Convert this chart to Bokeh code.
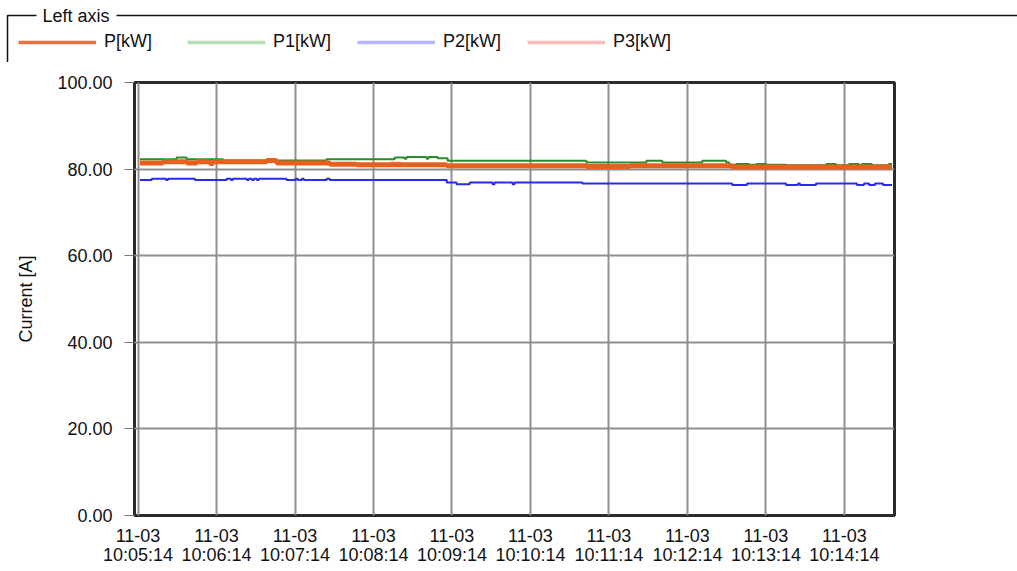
import math
import pandas as pd
from bokeh.plotting import figure
from bokeh.models import (Range1d, FixedTicker, DatetimeTickFormatter, NumeralTickFormatter,
                          Legend, LegendItem, ColumnDataSource)
from bokeh.core.properties import value
from bokeh.embed import file_html
from bokeh.resources import INLINE

# ---------------- data ----------------
START = "2023-11-03 10:05:14"
TICK_MINUTES = [0, 1, 2, 3, 4, 5, 6, 7, 8, 9]
Y_TICKS = [0, 20, 40, 60, 80, 100]
SERIES_NAMES = ["P[kW]", "P1[kW]", "P2[kW]", "P3[kW]"]

# seconds after START where the reading changes, and the reading
P_T = [1.5, 19, 37.4, 45, 55, 57.3, 98.5, 106, 146.6, 167.2, 236, 342.8, 376, 454.2, 576.4]
P_V = [81.4, 81.7, 81.4, 81.7, 81.3, 81.7, 82.0, 81.4, 81.1, 81.0, 80.8, 80.6, 80.8, 80.5, 80.5]

P1_T = [1.5, 29.5, 37.2, 65, 98.3, 102, 144, 196.2, 203.8, 205.3, 220.6, 222, 229, 236.7,
        342.8, 388.6, 400.8, 431.3, 449.6, 451.9, 457.3, 467.2, 472.5, 480.2, 495.4,
        526, 533.6, 543.5, 551.2, 553.5, 561.1, 574, 576.4]
P1_V = [82.3, 82.7, 82.3, 82.0, 82.3, 82.0, 82.3, 82.7, 82.4, 82.8, 82.4, 82.8, 82.5, 81.9,
        81.5, 81.9, 81.5, 81.9, 81.5, 81.0, 81.2, 81.0, 81.2, 81.0, 80.9,
        81.2, 80.9, 81.2, 80.9, 81.2, 80.9, 81.2, 81.2]

P2_T = [1.5, 10.5, 21.4, 22.9, 43.5, 67.7, 71, 72.5, 83.2, 84.7, 87, 88.6, 90.8, 92.4, 113.5,
        120.6, 122.1, 125.2, 126.7, 144.3, 146.6, 236, 243.5, 253.5, 271, 272.5, 286.3, 287.8,
        339.7, 454.2, 465.6, 495.4, 504.6, 506, 518.3, 549.6, 555, 558.8, 563.4, 569.5, 576.4]
P2_V = [77.5, 77.8, 77.5, 77.8, 77.5, 77.8, 77.5, 77.8, 77.5, 77.8, 77.5, 77.8, 77.5, 77.8, 77.5,
        77.8, 77.5, 77.8, 77.5, 77.8, 77.5, 76.9, 76.5, 76.9, 76.5, 76.9, 76.5, 76.9,
        76.7, 76.3, 76.7, 76.3, 76.7, 76.3, 76.7, 76.3, 76.7, 76.3, 76.7, 76.3, 76.3]

P3_T = [1.5, 19, 98.5, 106, 146.6, 193, 200.8, 221.3, 236, 292, 342.8, 408.5, 413.8, 454.2, 576.4]
P3_V = [81.6, 81.8, 81.9, 81.5, 81.2, 81.5, 81.0, 80.8, 80.9, 80.7, 80.5, 80.4, 80.7, 80.4, 80.4]

# ---------------- styles ----------------
FONT = "Liberation Sans"
CHART_COLORS = {"P[kW]": "#e8601e", "P1[kW]": "#2a8c2a", "P2[kW]": "#2a2af0", "P3[kW]": "#ffb0b0"}
LEGEND_COLORS = {"P[kW]": "#ee7040", "P1[kW]": "#b5ddb5", "P2[kW]": "#b4b4ff", "P3[kW]": "#ffbaba"}
CHART_WIDTHS = {"P[kW]": 5, "P1[kW]": 2, "P2[kW]": 2, "P3[kW]": 2}

t0 = pd.Timestamp(START)


def to_time(secs):
    return [t0 + pd.Timedelta(seconds=s) for s in secs]


def ms(ts):
    return ts.value / 1e6


# ---------------- legend strip (group box "Left axis") ----------------
W = 1017
LEG_H = 62
leg = figure(width=W, height=LEG_H, x_range=Range1d(0, W), y_range=Range1d(LEG_H, 0),
             x_axis_location=None, y_axis_location=None, toolbar_location=None,
             output_backend="svg", min_border=0, outline_line_color=None)
leg.xgrid.visible = False
leg.ygrid.visible = False
leg.line(x=[7, 7, 36], y=[LEG_H, 15, 15], line_color="#111111", line_width=1.5)
leg.line(x=[116, W], y=[15, 15], line_color="#111111", line_width=1.5)
leg.text(x=[42], y=[15], text=["Left axis"], text_baseline="middle", text_align="left",
         text_font=value(FONT), text_font_size="18px", text_color="#111111")

legend_x = [18, 187, 357, 527]
for name, lx in zip(SERIES_NAMES, legend_x):
    # swatch-only renderer (its single point is NaN, so it draws nothing in the strip)
    r = leg.line(x=[math.nan], y=[math.nan], line_color=LEGEND_COLORS[name], line_width=3.5)
    lg = Legend(items=[LegendItem(label=name, renderers=[r])], location=(lx, 10),
                orientation="horizontal", glyph_width=78, glyph_height=20, label_height=20,
                label_standoff=8, padding=0, margin=0, spacing=0,
                border_line_alpha=0, background_fill_alpha=0,
                label_text_font=FONT, label_text_font_size="18px", label_text_color="#111111")
    leg.add_layout(lg)

# ---------------- main chart ----------------
x_start = t0 - pd.Timedelta(seconds=2.7)
x_end = t0 + pd.Timedelta(seconds=578.3)
p = figure(width=W, height=571 - LEG_H, x_axis_type="datetime",
           x_range=Range1d(x_start, x_end), y_range=Range1d(0, 100),
           toolbar_location=None, output_backend="svg",
           min_border_left=134, min_border_right=123, min_border_top=20, min_border_bottom=56)
p.outline_line_color = "#2b2b2b"
p.outline_line_width = 3
p.background_fill_color = "white"

xticks = [ms(t0 + pd.Timedelta(minutes=m)) for m in TICK_MINUTES]
p.xaxis.ticker = FixedTicker(ticks=xticks)
fmt = "%m-%d\n%H:%M:%S"
p.xaxis.formatter = DatetimeTickFormatter(milliseconds=fmt, seconds=fmt, minsec=fmt, minutes=fmt,
                                          hourmin=fmt, hours=fmt, days=fmt, months=fmt, years=fmt)
p.xaxis.major_tick_out = 0
p.xaxis.major_tick_in = 0
p.xaxis.minor_tick_out = 0
p.xaxis.minor_tick_in = 0
p.xaxis.axis_line_color = None
p.xaxis.major_label_standoff = 10
p.xaxis.major_label_text_font = FONT
p.xaxis.major_label_text_font_size = "18px"
p.xaxis.major_label_text_color = "#111111"
p.xaxis.major_label_text_line_height = 0.95

p.yaxis.ticker = FixedTicker(ticks=Y_TICKS)
p.yaxis.formatter = NumeralTickFormatter(format="0.00")
p.yaxis.major_tick_out = 10
p.yaxis.major_tick_in = 0
p.yaxis.minor_tick_out = 0
p.yaxis.minor_tick_in = 0
p.yaxis.major_tick_line_color = "#777777"
p.yaxis.axis_line_color = None
p.yaxis.major_label_standoff = 12
p.yaxis.major_label_text_font = FONT
p.yaxis.major_label_text_font_size = "18px"
p.yaxis.major_label_text_color = "#111111"
p.yaxis.axis_label = "Current [A]"
p.yaxis.axis_label_text_font = FONT
p.yaxis.axis_label_text_font_size = "18px"
p.yaxis.axis_label_text_font_style = "normal"
p.yaxis.axis_label_text_color = "#111111"
p.yaxis.axis_label_standoff = 18

p.xgrid.ticker = FixedTicker(ticks=xticks)
p.ygrid.ticker = FixedTicker(ticks=Y_TICKS)
for g in (p.xgrid, p.ygrid):
    g.grid_line_color = "#8f8f8f"
    g.grid_line_width = 2

series = {"P3[kW]": (P3_T, P3_V), "P1[kW]": (P1_T, P1_V), "P2[kW]": (P2_T, P2_V), "P[kW]": (P_T, P_V)}
for name, (ts, vs) in series.items():
    src = ColumnDataSource(dict(x=to_time(ts), y=vs))
    p.step(x="x", y="y", source=src, mode="after", line_color=CHART_COLORS[name],
           line_width=CHART_WIDTHS[name])

open("out.html", "w").write(file_html([leg, p], INLINE))
